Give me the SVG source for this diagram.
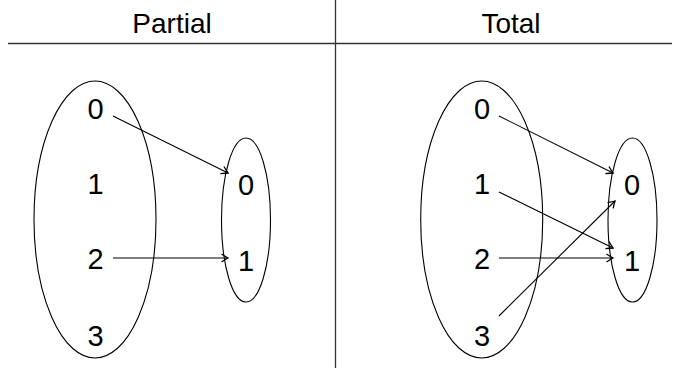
<svg xmlns="http://www.w3.org/2000/svg" width="680" height="368" viewBox="0 0 680 368">
<style>
.t{font-family:"Liberation Sans","DejaVu Sans",sans-serif;font-size:28px;fill:#000;text-anchor:middle}
.d{font-family:"Liberation Sans","DejaVu Sans",sans-serif;font-size:29px;fill:#000;text-anchor:middle}
.e{fill:none;stroke:#000;stroke-width:1.1}
.c{fill:none;stroke:#000;stroke-width:1.1;marker-end:url(#ah)}
.rule{stroke:#333;stroke-width:1.3}
</style>
<defs>
<marker id="ah" viewBox="-8 -5 10 10" refX="0" refY="0" markerWidth="10" markerHeight="10" markerUnits="userSpaceOnUse" orient="auto">
<path d="M-6.5,-4 Q-2,-1 0,0 Q-2,1 -6.5,4" fill="none" stroke="#000" stroke-width="1.3"/>
</marker>
</defs>
<g id="header">
<text class="t" x="172" y="33">Partial</text>
<text class="t" x="511" y="33">Total</text>
<line class="rule" x1="8" y1="43.5" x2="672" y2="43.5"/>
<line class="rule" x1="335.5" y1="0" x2="335.5" y2="368"/>
</g>
<g id="partial-domain"><ellipse class="e" cx="95" cy="219.5" rx="61" ry="138.5"/></g>
<g id="partial-codomain"><ellipse class="e" cx="246" cy="220" rx="24.5" ry="82"/></g>
<g id="p-d0"><text class="d" x="95.5" y="118.5">0</text></g>
<g id="p-d1"><text class="d" x="95.5" y="194">1</text></g>
<g id="p-d2"><text class="d" x="95.5" y="269">2</text></g>
<g id="p-d3"><text class="d" x="95.5" y="345.5">3</text></g>
<g id="p-c0"><text class="d" x="246" y="195">0</text></g>
<g id="p-c1"><text class="d" x="246" y="271">1</text></g>
<g id="total-domain"><ellipse class="e" cx="481.7" cy="219.5" rx="61" ry="138.5"/></g>
<g id="total-codomain"><ellipse class="e" cx="632.5" cy="220" rx="24.5" ry="82"/></g>
<g id="t-d0"><text class="d" x="482" y="118.5">0</text></g>
<g id="t-d1"><text class="d" x="482" y="194">1</text></g>
<g id="t-d2"><text class="d" x="482" y="269">2</text></g>
<g id="t-d3"><text class="d" x="482" y="345.5">3</text></g>
<g id="t-c0"><text class="d" x="632" y="195">0</text></g>
<g id="t-c1"><text class="d" x="632" y="271">1</text></g>
<g id="connectors">
<line class="c" x1="113" y1="116" x2="228" y2="173"/>
<line class="c" x1="113" y1="258" x2="228" y2="258"/>
<line class="c" x1="499" y1="116" x2="613" y2="173"/>
<line class="c" x1="499" y1="192" x2="613" y2="248"/>
<line class="c" x1="499" y1="258" x2="613" y2="258"/>
<line class="c" x1="499" y1="316" x2="615" y2="201"/>
</g>
</svg>
